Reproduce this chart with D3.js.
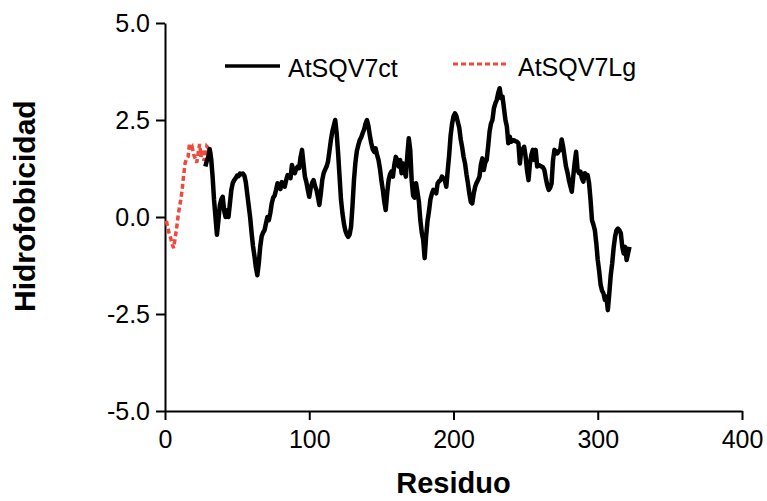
<!DOCTYPE html>
<html>
<head>
<meta charset="utf-8">
<script src="https://cdn.jsdelivr.net/npm/d3@7"></script>
<style>
  html, body { margin: 0; padding: 0; background: #fff; }
  svg { display: block; font-family: "Liberation Sans", Arial, Helvetica, sans-serif; }
</style>
</head>
<body>
<svg id="chart" width="767" height="501"></svg>
<script>
// Hydrophobicity profile (per residue) for the two constructs.
// AtSQV7Lg: leader segment, residues 1..32
const lgStart = 1;
const lgValues = [
  -0.10, -0.28, -0.45, -0.55, -0.70, -0.80, -0.55, -0.30, 0.00, 0.25,
  0.45, 0.75, 1.10, 1.40, 1.50, 1.55, 1.90, 1.70, 1.78, 1.60,
  1.50, 1.40, 1.65, 1.88, 1.55, 1.72, 1.45, 1.55, 1.82, 1.78,
  1.70, 1.62
];

// AtSQV7ct: residues 28..322
const ctStart = 28;
const ctValues = [
  1.30, 1.45, 1.55, 1.75, 1.50, 1.04, 0.44, 0.00, -0.46, -0.10,   // 28-37
  0.30, 0.45, 0.52, 0.17, 0.00, 0.17, 0.00, 0.35, 0.70, 0.88,     // 38-47
  0.95, 1.00, 1.07, 1.05, 1.12, 1.10, 1.12, 1.07, 0.90, 0.60,     // 48-57
  0.30, 0.00, -0.40, -0.75, -1.00, -1.30, -1.50, -1.20, -0.77, -0.50, // 58-67
  -0.40, -0.34, -0.17, 0.00, -0.08, 0.10, 0.35, 0.50, 0.55, 0.70, // 68-77
  0.87, 0.80, 0.72, 0.90, 0.85, 0.78, 0.95, 1.08, 1.05, 1.00,     // 78-87
  1.34, 1.20, 1.13, 1.25, 1.30, 1.26, 1.55, 1.73, 1.38, 1.04,     // 88-97
  0.90, 0.70, 0.52, 0.75, 0.88, 0.95, 0.80, 0.70, 0.52, 0.31,     // 98-107
  0.60, 0.95, 1.13, 1.22, 1.30, 1.43, 1.70, 1.98, 2.20, 2.35,     // 108-117
  2.50, 2.16, 1.65, 1.05, 0.45, 0.10, -0.16, -0.35, -0.45, -0.51, // 118-127
  -0.45, -0.25, 0.30, 0.95, 1.40, 1.70, 1.85, 1.98, 2.05, 2.16,   // 128-137
  2.25, 2.40, 2.50, 2.35, 2.10, 1.90, 1.75, 1.68, 1.77, 1.60,     // 138-147
  1.47, 1.25, 0.95, 0.70, 0.40, 0.18, 0.61, 0.95, 1.10, 1.17,     // 148-157
  1.04, 1.35, 1.55, 1.47, 1.30, 1.47, 1.13, 1.38, 1.20, 1.04,     // 158-167
  1.60, 2.03, 1.73, 0.95, 0.55, 0.50, 0.87, 0.65, 0.40, -0.08,    // 168-177
  -0.40, -0.59, -1.06, -0.51, -0.10, 0.15, 0.45, 0.60, 0.70, 0.65, // 178-187
  0.61, 0.87, 0.92, 0.95, 1.04, 1.00, 0.95, 0.78, 1.20, 1.60,     // 188-197
  2.10, 2.40, 2.59, 2.67, 2.60, 2.45, 2.30, 2.00, 1.80, 1.55,     // 198-207
  1.38, 1.10, 0.87, 0.60, 0.39, 0.35, 0.60, 0.78, 0.88, 0.95,     // 208-217
  1.04, 1.35, 1.51, 1.21, 1.40, 1.47, 1.81, 2.20, 2.41, 2.50,     // 218-227
  2.80, 2.93, 3.02, 3.20, 3.32, 3.06, 3.10, 2.80, 2.50, 2.33,     // 228-237
  1.90, 2.07, 1.94, 1.98, 1.98, 1.95, 1.94, 1.90, 1.38, 1.73,     // 238-247
  1.75, 1.81, 1.55, 1.20, 0.95, 1.38, 1.60, 1.73, 1.47, 1.73,     // 248-257
  1.30, 1.34, 1.32, 1.30, 1.28, 1.21, 1.00, 0.82, 0.70, 0.75,     // 258-267
  0.87, 1.47, 1.73, 1.68, 1.64, 1.70, 1.73, 2.00, 1.81, 1.55,     // 268-277
  1.30, 1.15, 0.95, 0.80, 0.65, 1.04, 1.40, 1.68, 1.21, 1.13,     // 278-287
  1.17, 1.00, 0.91, 1.13, 1.08, 1.08, 0.87, 0.44, -0.08, -0.20,   // 288-297
  -0.34, -0.68, -1.11, -1.40, -1.75, -1.90, -1.97, -2.14, -2.05, -2.40, // 298-307
  -1.97, -1.50, -1.20, -0.80, -0.51, -0.34, -0.30, -0.34, -0.42, -0.77, // 308-317
  -0.94, -0.77, -1.11, -0.94, -0.77                                // 318-322
];

const xTicks = [0, 100, 200, 300, 400];
const xTickLabels = ["0", "100", "200", "300", "400"];
const yTicks = [-5, -2.5, 0, 2.5, 5];
const yTickLabels = ["-5.0", "-2.5", "0.0", "2.5", "5.0"];
const seriesNames = ["AtSQV7ct", "AtSQV7Lg"];
const xTitle = "Residuo";
const yTitle = "Hidrofobicidad";

const ctColor = "#000000";
const lgColor = "#ee4a3c";

const svg = d3.select("#chart");

const x = d3.scaleLinear().domain([0, 400]).range([165, 742]);
const y = d3.scaleLinear().domain([-5, 5]).range([411, 23]);

const toPoints = (start, vals) => vals.map((v, i) => [start + i, v]);
const line = d3.line().x(d => x(d[0])).y(d => y(d[1]));

// Axes
const xAxis = d3.axisBottom(x)
  .tickValues(xTicks)
  .tickFormat((d, i) => xTickLabels[i])
  .tickSizeInner(9).tickSizeOuter(0).tickPadding(10);
const yAxis = d3.axisLeft(y)
  .tickValues(yTicks)
  .tickFormat((d, i) => yTickLabels[i])
  .tickSizeInner(9).tickSizeOuter(0).tickPadding(6);

function styleAxis(g) {
  g.select(".domain").attr("stroke", "#000").attr("stroke-width", 2);
  g.selectAll(".tick line").attr("stroke", "#000").attr("stroke-width", 2);
  g.selectAll(".tick text")
    .attr("fill", "#000")
    .style("font-size", "25px")
    .style("font-family", "'Liberation Sans', Arial, sans-serif");
}

svg.append("g").attr("transform", `translate(0,${y(-5)})`).call(xAxis).call(styleAxis);
svg.append("g").attr("transform", `translate(${x(0)},0)`).call(yAxis).call(styleAxis);

// Series lines
svg.append("path")
  .datum(toPoints(lgStart, lgValues))
  .attr("d", line)
  .attr("fill", "none")
  .attr("stroke", lgColor)
  .attr("stroke-width", 3.5)
  .attr("stroke-dasharray", "5,3");

svg.append("path")
  .datum(toPoints(ctStart, ctValues))
  .attr("d", line)
  .attr("fill", "none")
  .attr("stroke", ctColor)
  .attr("stroke-width", 4.5)
  .attr("stroke-linejoin", "round");

// Legend
const legend = svg.append("g").style("font-size", "25px");
legend.append("line")
  .attr("x1", 225).attr("x2", 280).attr("y1", 66).attr("y2", 66)
  .attr("stroke", ctColor).attr("stroke-width", 3.5);
legend.append("text").attr("x", 288).attr("y", 77).text(seriesNames[0]);
legend.append("line")
  .attr("x1", 453).attr("x2", 506).attr("y1", 64).attr("y2", 64)
  .attr("stroke", lgColor).attr("stroke-width", 3).attr("stroke-dasharray", "5,3");
legend.append("text").attr("x", 518).attr("y", 76).text(seriesNames[1]);

// Axis titles
svg.append("text")
  .attr("x", x(200)).attr("y", 493)
  .attr("text-anchor", "middle")
  .style("font-size", "29px").style("font-weight", "bold")
  .text(xTitle);

svg.append("text")
  .attr("transform", `translate(35,${y(0.28)}) rotate(-90)`)
  .attr("text-anchor", "middle")
  .style("font-size", "30px").style("font-weight", "bold")
  .text(yTitle);
</script>
</body>
</html>
